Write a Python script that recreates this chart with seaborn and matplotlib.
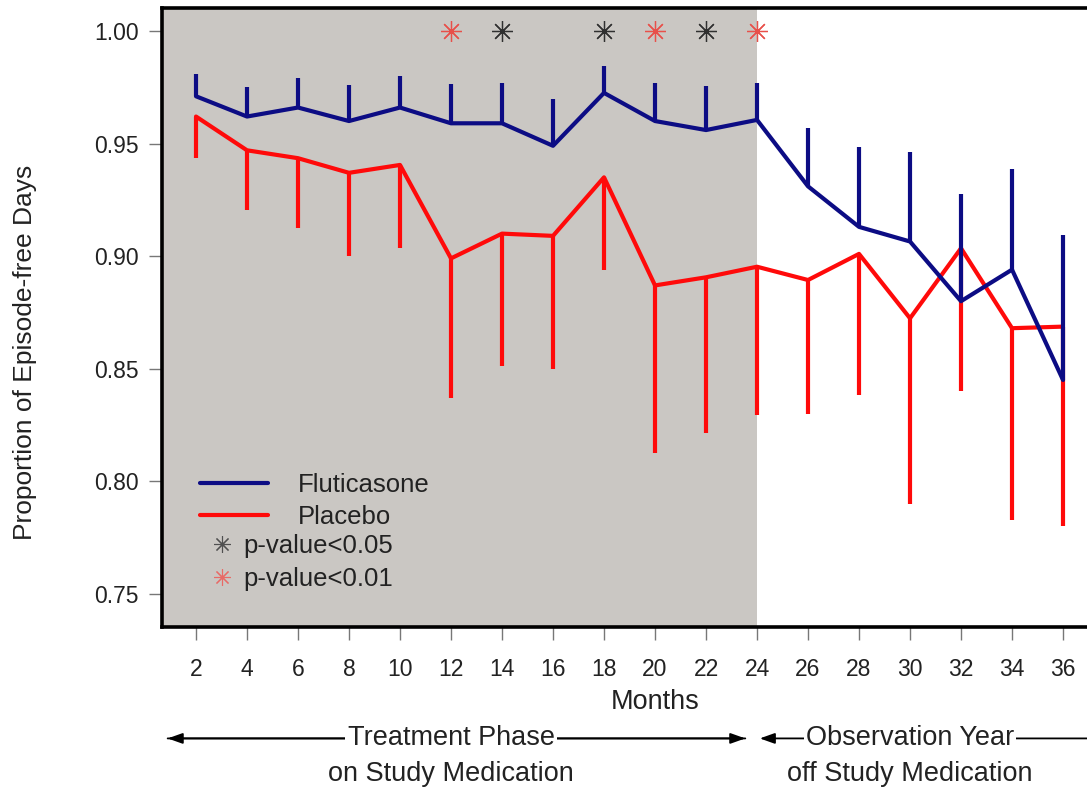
import matplotlib
matplotlib.use("Agg")
import matplotlib.pyplot as plt
from matplotlib.lines import Line2D
import matplotlib.transforms as mtransforms
import numpy as np
import pandas as pd
import seaborn as sns

# ---------------- data ----------------
months = [2, 4, 6, 8, 10, 12, 14, 16, 18, 20, 22, 24, 26, 28, 30, 32, 34, 36]
flu_mean = [0.971, 0.962, 0.966, 0.960, 0.966, 0.959, 0.959, 0.949, 0.9725, 0.960,
            0.956, 0.9605, 0.931, 0.913, 0.9065, 0.880, 0.894, 0.845]
flu_upper = [0.981, 0.975, 0.979, 0.976, 0.980, 0.9765, 0.977, 0.970, 0.9845, 0.977,
             0.9756, 0.977, 0.957, 0.9486, 0.9464, 0.9276, 0.9386, 0.9094]
plc_mean = [0.962, 0.947, 0.9435, 0.937, 0.9405, 0.899, 0.910, 0.909, 0.935, 0.887,
            0.8906, 0.8953, 0.8894, 0.901, 0.8724, 0.9035, 0.868, 0.8687]
plc_lower = [0.9435, 0.9205, 0.9124, 0.900, 0.9035, 0.837, 0.851, 0.850, 0.894, 0.8125,
             0.8214, 0.8295, 0.830, 0.8384, 0.790, 0.840, 0.783, 0.780]
sig05_months = [14, 18, 22]
sig01_months = [12, 20, 24]
sig_level = 1.00
treatment_end = 24
yticks = [0.75, 0.80, 0.85, 0.90, 0.95, 1.00]

NAVY = "#0c0c84"
RED = "#ff0a0a"
GRAY = "#cac7c3"
TXT = "#222222"

sns.set_style("white")
plt.rcParams["font.family"] = ["Liberation Sans", "DejaVu Sans"]

fig = plt.figure(figsize=(10.87, 7.87), dpi=100)
ax = fig.add_axes([162 / 1087, 160 / 787, 938 / 1087, 619 / 787])

xmin, xmax = 0.667, 37.45
ax.set_xlim(xmin, xmax)
ax.set_ylim(0.7353, 1.0102)
ax.axvspan(xmin, treatment_end, color=GRAY, lw=0, zorder=0)

df_f = pd.DataFrame({"month": months, "value": flu_mean})
df_p = pd.DataFrame({"month": months, "value": plc_mean})

# Placebo: lower error bars only
ax.vlines(months, plc_lower, plc_mean, color=RED, lw=3.0, zorder=2)
sns.lineplot(data=df_p, x="month", y="value", color=RED, lw=3.0, ax=ax, zorder=3)
# Fluticasone: upper error bars only
ax.vlines(months, flu_mean, flu_upper, color=NAVY, lw=3.0, zorder=4)
sns.lineplot(data=df_f, x="month", y="value", color=NAVY, lw=3.0, ax=ax, zorder=5)

star = (8, 2, 0)
ax.plot(sig05_months, [sig_level] * len(sig05_months), ls="none", marker=star,
        ms=15, mew=0.9, color="#303030", zorder=6)
ax.plot(sig01_months, [sig_level] * len(sig01_months), ls="none", marker=star,
        ms=15, mew=0.9, color="#e8504a", zorder=6)

# axes styling
for s in ["left", "bottom", "top"]:
    ax.spines[s].set_visible(True)
    ax.spines[s].set_linewidth(2.6)
    ax.spines[s].set_color("black")
ax.spines["right"].set_visible(False)

ax.set_xticks(months)
ax.set_xticklabels([str(m) for m in months], fontsize=16.5, color=TXT)
ax.set_yticks(yticks)
ax.set_yticklabels([f"{v:.2f}" for v in yticks], fontsize=16.5, color=TXT)
ax.tick_params(axis="x", direction="out", length=9, width=1, color="#777777", pad=13, bottom=True)
ax.tick_params(axis="y", direction="out", length=9.5, width=1, color="#777777", pad=7, left=True)
ax.set_xlabel("Months", fontsize=19.5, color=TXT)
ax.xaxis.set_label_coords(0.5256, -0.1)
ax.set_ylabel("Proportion of Episode-free Days", fontsize=19, color=TXT)
ax.yaxis.set_label_coords(-0.1333, 0.443)

# legends
h_lines = [Line2D([], [], color=NAVY, lw=3.0), Line2D([], [], color=RED, lw=3.0)]
leg1 = ax.legend(h_lines, ["Fluticasone", "Placebo"], loc="upper left",
                 bbox_to_anchor=(0.0405, 0.248), frameon=False, fontsize=18.5,
                 handlelength=2.65, handletextpad=1.15, labelspacing=0.3,
                 borderpad=0, borderaxespad=0)
for t in leg1.get_texts():
    t.set_color(TXT)
ax.add_artist(leg1)
h_stars = [Line2D([], [], ls="none", marker=star, ms=12, mew=0.8, color="#505050"),
           Line2D([], [], ls="none", marker=star, ms=12, mew=0.8, color="#e86a66")]
leg2 = ax.legend(h_stars, ["p-value<0.05", "p-value<0.01"], loc="upper left",
                 bbox_to_anchor=(0.0533, 0.151), frameon=False, fontsize=18.5,
                 handlelength=0.8, handletextpad=0.41, labelspacing=0.38,
                 borderpad=0, borderaxespad=0)
for t in leg2.get_texts():
    t.set_color(TXT)

# phase annotations below the axis
trans = mtransforms.blended_transform_factory(ax.transData, ax.transAxes)
arrow_kw = dict(arrowstyle="-|>,head_length=0.9,head_width=0.32", color="black", lw=1.3)
ax.annotate("", xy=(0.78, -0.18), xytext=(treatment_end - 0.35, -0.18),
            xycoords=trans, textcoords=trans, arrowprops=arrow_kw, annotation_clip=False)
ax.annotate("", xy=(treatment_end - 0.35, -0.18), xytext=(0.78, -0.18),
            xycoords=trans, textcoords=trans, arrowprops=arrow_kw, annotation_clip=False)
ax.annotate("", xy=(treatment_end + 0.0, -0.18), xytext=(xmax + 1, -0.18),
            xycoords=trans, textcoords=trans, arrowprops=arrow_kw, annotation_clip=False)

txt_kw = dict(transform=trans, ha="center", va="center", fontsize=19.5,
              color=TXT, clip_on=False)
bb = dict(facecolor="white", edgecolor="none", pad=1.5)
ax.text(12, -0.18, "Treatment Phase", bbox=bb, **txt_kw)
ax.text(12, -0.237, "on Study Medication", **txt_kw)
ax.text(30, -0.18, "Observation Year", bbox=bb, **txt_kw)
ax.text(30, -0.237, "off Study Medication", **txt_kw)

fig.savefig("out.png", dpi=100)
